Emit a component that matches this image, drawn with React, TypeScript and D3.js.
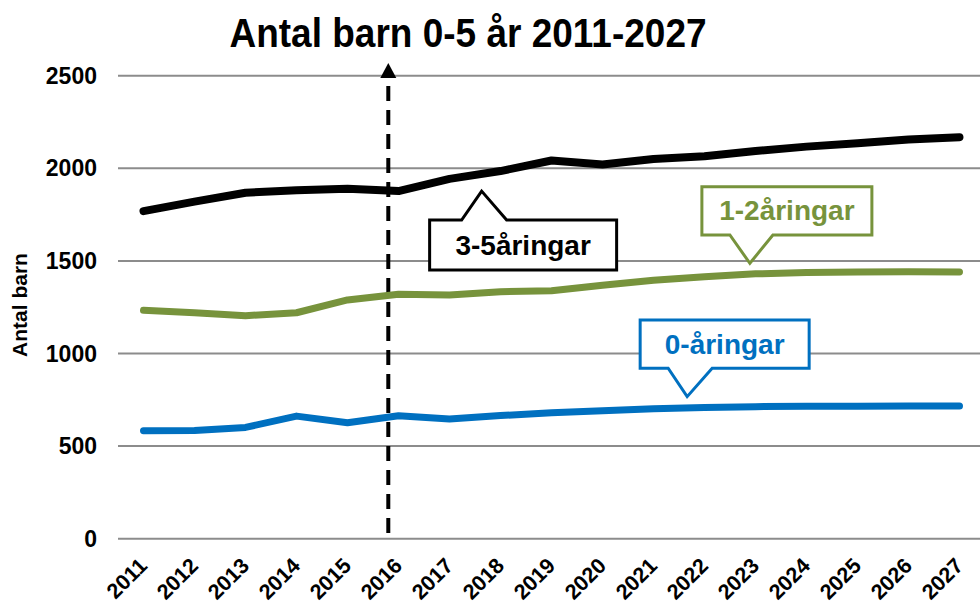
import React from 'react'
import { scaleLinear, scalePoint, line, curveLinear } from 'd3'

const years = [2011, 2012, 2013, 2014, 2015, 2016, 2017, 2018, 2019, 2020, 2021, 2022, 2023, 2024, 2025, 2026, 2027]
const age35 = [1769, 1820, 1868, 1882, 1890, 1877, 1943, 1985, 2042, 2020, 2050, 2065, 2093, 2117, 2135, 2155, 2168]
const age12 = [1233, 1220, 1204, 1220, 1289, 1320, 1316, 1334, 1339, 1368, 1395, 1415, 1430, 1437, 1440, 1441, 1440]
const age0 = [583, 584, 601, 662, 626, 664, 646, 665, 680, 691, 702, 709, 713, 715, 715, 716, 716]
const yTicks = [0, 500, 1000, 1500, 2000, 2500]

const series = [
  { name: '3-5åringar', values: age35, color: '#000000', width: 8 },
  { name: '1-2åringar', values: age12, color: '#77933C', width: 7 },
  { name: '0-åringar', values: age0, color: '#0070C0', width: 7 },
]

// callouts: tip in data space, box relative to the tip (px)
const callouts = [
  { text: '3-5åringar', color: '#000000', tipYear: 2017.63, tipVal: 1877, box: [-52, 135, 29, 79], base: [-20, 25], up: true, baseline: 64 },
  { text: '1-2åringar', color: '#77933C', tipYear: 2022.89, tipVal: 1487, box: [-48, 122, -76.6, -28.3], base: [-20, 23], up: false, baseline: -43 },
  { text: '0-åringar', color: '#0070C0', tipYear: 2021.66, tipVal: 767, box: [-47, 122, -76.7, -28.4], base: [-19, 25], up: false, baseline: -43 },
]

const FONT = '"Liberation Sans", Arial, Helvetica, sans-serif'

const App = () => {
  const width = 980
  const height = 605

  const x = scalePoint<number>().domain(years).range([118, 985]).padding(0.5)
  const xs = scaleLinear().domain([years[0], years[years.length - 1]]).range([x(years[0])!, x(years[years.length - 1])!])
  const y = scaleLinear().domain([0, 2500]).range([538.7, 75.7])

  const mkLine = line<number>()
    .x((d, i) => x(years[i])!)
    .y(d => y(d))
    .curve(curveLinear)

  const markX = xs(2015.8)

  return (
    <div style={{ position: 'absolute', left: 0, top: 0 }}>
      <svg width={width} height={height} style={{ display: 'block', fontFamily: FONT }}>
        <rect width={width} height={height} fill="white" />
        <text transform="translate(468, 47) scale(1, 1.08)" textAnchor="middle" fontSize={37} fontWeight="bold" fill="#000">
          Antal barn 0-5 år 2011-2027
        </text>

        {yTicks.map(t => (
          <g key={t}>
            <line x1={118} x2={980} y1={y(t)} y2={y(t)} stroke="#8c8c8c" strokeWidth={2} />
            <text x={97} y={y(t) + 8} textAnchor="end" fontSize={23} fontWeight="bold">{t}</text>
          </g>
        ))}

        <text transform={`translate(27, ${305}) rotate(-90)`} textAnchor="middle" fontSize={21} fontWeight="bold">
          Antal barn
        </text>

        {years.map(yr => (
          <text key={yr} transform={`translate(${x(yr)! + 5}, 567) rotate(-45)`} textAnchor="end" fontSize={21.5} fontWeight="bold">
            {yr}
          </text>
        ))}

        <line x1={markX} x2={markX} y1={533} y2={76} stroke="#000" strokeWidth={4} strokeDasharray="15 9" />
        <path d={`M${markX},63 L${markX + 8},78 L${markX - 8},78 Z`} fill="#000" />

        {series.map(s => (
          <path key={s.name} d={mkLine(s.values) || ''} fill="none" stroke={s.color} strokeWidth={s.width}
            strokeLinecap="round" strokeLinejoin="round" />
        ))}

        {callouts.map(c => {
          const tx = xs(c.tipYear)
          const ty = y(c.tipVal)
          const [l, r, t, b] = c.box
          const [b0, b1] = c.base
          const d = c.up
            ? `M${tx + l},${ty + t} L${tx + b0},${ty + t} L${tx},${ty} L${tx + b1},${ty + t} L${tx + r},${ty + t} L${tx + r},${ty + b} L${tx + l},${ty + b} Z`
            : `M${tx + l},${ty + t} L${tx + r},${ty + t} L${tx + r},${ty + b} L${tx + b1},${ty + b} L${tx},${ty} L${tx + b0},${ty + b} L${tx + l},${ty + b} Z`
          return (
            <g key={c.text}>
              <path d={d} fill="white" stroke={c.color} strokeWidth={3} strokeLinejoin="miter" />
              <text x={tx + (l + r) / 2} y={ty + c.baseline} textAnchor="middle" fontSize={28} fontWeight="bold" fill={c.color}>
                {c.text}
              </text>
            </g>
          )
        })}
      </svg>
    </div>
  )
}

export default App
